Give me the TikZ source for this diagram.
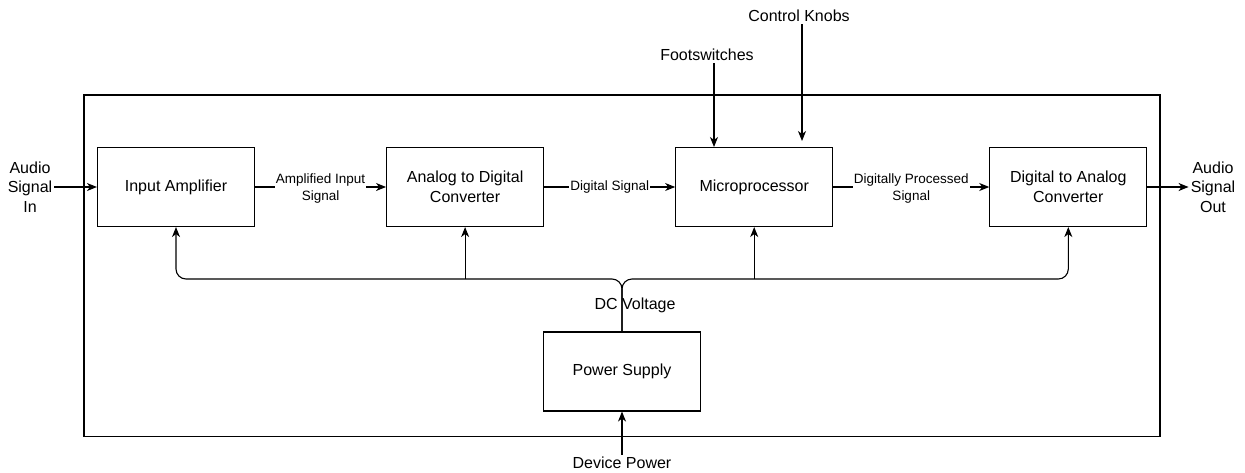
\documentclass[tikz,border=0pt]{standalone}
\usepackage{fontspec}
\setmainfont{Liberation Sans}
\usetikzlibrary{arrows.meta,positioning}

\begin{document}
\begin{tikzpicture}
    [x=1pt,y=-1pt,
    block/.style={rectangle,draw=black,line width=1.1pt,fill=white,
    inner sep=0pt,minimum width=157pt,minimum height=79pt,align=center,
    font=\fontsize{16}{19.5}\selectfont},
    io/.style={align=center,inner sep=2pt,font=\fontsize{16}{19.5}\selectfont},
    tag/.style={fill=white,inner sep=1pt,align=center,
    font=\fontsize{13.5}{17}\selectfont},
    flow/.style={line width=1.1pt,-{Stealth[length=10pt,width=8pt,inset=3pt]}}]
    \useasboundingbox (0,0) rectangle (1245,472);
    \draw[line width=1.1pt] (84,95) rectangle (1160,436.5);
    \node[block] (amp) at (176,187) {Input Amplifier};
    \node[block] (adc) [right=131pt of amp] {Analog to Digital\\Converter};
    \node[block] (micro) [right=131pt of adc] {Microprocessor};
    \node[block] (dac) [right=156pt of micro] {Digital to Analog\\Converter};
    \node[block] (psu) at (622,371.5) {Power Supply};
    \node[io] (in) at (30,187) {Audio\\Signal\\In};
    \node[io] (out) at (1213,187) {Audio\\Signal\\Out};
    \node[io] (foot) at (707,55) {Footswitches};
    \node[io] (knobs) at (799,16) {Control Knobs};
    \node[io] (mains) at (622,463) {Device Power};
    \node[io] (dcv) at (635,305) {DC Voltage};
    \coordinate (footend) at (714,147);
    \coordinate (knobend) at (802,141);
    \coordinate (bus) at (622,279);
    % signal chain
    \draw[flow] (in.east) -- (amp.west);
    \draw[flow] (amp.east) -- node[tag,yshift=-2pt] {Amplified Input\\Signal} (adc.west);
    \draw[flow] (adc.east) -- node[tag] {Digital Signal} (micro.west);
    \draw[flow] (micro.east) -- node[tag,yshift=-2pt] {Digitally Processed\\Signal} (dac.west);
    \draw[flow] (dac.east) -- (out.west);
    % controls
    \draw[flow] (foot.south -| footend) -- (footend);
    \draw[flow] (knobs.south -| knobend) -- (knobend);
    % power
    \draw[flow] (mains.north) -- (psu.south);
    \draw[flow,rounded corners=10pt] (psu.north) -- (bus) -| (amp.south);
    \draw[flow,rounded corners=10pt] (psu.north) -- (bus) -| (dac.south);
    \draw[flow] (bus -| adc.south) -- (adc.south);
    \draw[flow] (bus -| micro.south) -- (micro.south);
\end{tikzpicture}
\end{document}
